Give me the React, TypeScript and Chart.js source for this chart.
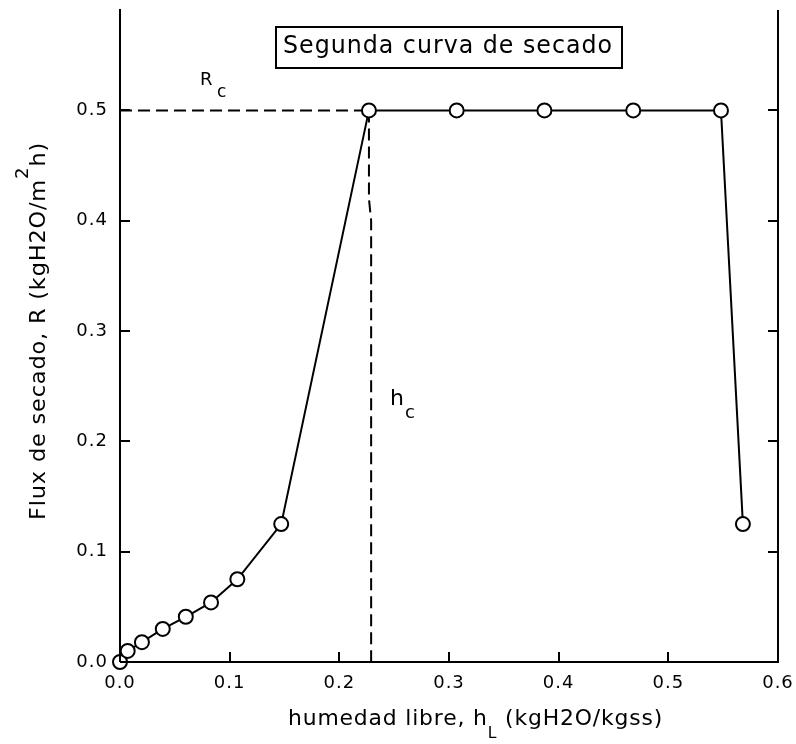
import React, { useEffect, useRef } from "react";
import { Chart, registerables } from "chart.js";

Chart.register(...registerables);

const humedad = [0, 0.007, 0.02, 0.039, 0.06, 0.083, 0.107, 0.147, 0.227, 0.307, 0.387, 0.468, 0.548, 0.568];
const flux = [0, 0.01, 0.018, 0.03, 0.041, 0.054, 0.075, 0.125, 0.5, 0.5, 0.5, 0.5, 0.5, 0.125];
const rcLineX = [0, 0.227];
const rcLineY = [0.5, 0.5];
const hcLineX = [0.227, 0.227, 0.229, 0.229];
const hcLineY = [0.5, 0.42, 0.4, 0];
const xTicks = [0, 0.1, 0.2, 0.3, 0.4, 0.5, 0.6];
const yTicks = [0, 0.1, 0.2, 0.3, 0.4, 0.5];

const titleText = "Segunda curva de secado";
const xTitleParts = ["humedad libre, h", "L", " (kgH2O/kgss)"];
const yTitleParts = ["Flux de secado, R (kgH2O/m", "2", "h)"];
const FONT = "'DejaVu Sans', sans-serif";

const toPts = (xs: number[], ys: number[]) => xs.map((x, i) => ({ x, y: ys[i] }));

// draw text in parts (main / sub-or-superscript / main), stretched horizontally to a target length
function drawParts(ctx: any, parts: string[], size: number, smallSize: number, shift: number, target: number) {
  const sp = 0.8;
  ctx.letterSpacing = `${sp}px`;
  ctx.font = `${size}px ${FONT}`;
  const w0 = ctx.measureText(parts[0]).width;
  const w2 = ctx.measureText(parts[2]).width;
  ctx.font = `${smallSize}px ${FONT}`;
  const w1 = ctx.measureText(parts[1]).width;
  const sx = target / (w0 + w1 + w2);
  ctx.scale(sx, 1);
  let x = 0;
  ctx.font = `${size}px ${FONT}`;
  ctx.fillText(parts[0], x, 0);
  x += w0;
  ctx.font = `${smallSize}px ${FONT}`;
  ctx.fillText(parts[1], x, shift);
  x += w1;
  ctx.font = `${size}px ${FONT}`;
  ctx.fillText(parts[2], x, 0);
  ctx.letterSpacing = "0px";
}

const decorPlugin = {
  id: "decor",
  beforeDraw(chart: any) {
    (chart.ctx as any).letterSpacing = "1px";
  },
  afterDraw(chart: any) {
    const { ctx, chartArea, scales } = chart;
    const xs = scales.x;
    const ys = scales.y;
    ctx.save();
    ctx.strokeStyle = "#000";
    ctx.fillStyle = "#000";
    ctx.lineWidth = 2;
    // right axis line
    ctx.beginPath();
    ctx.moveTo(chartArea.right, chartArea.top);
    ctx.lineTo(chartArea.right, chartArea.bottom + 1);
    ctx.stroke();
    // inward ticks
    ctx.beginPath();
    xTicks.forEach((v) => {
      const px = Math.round(xs.getPixelForValue(v));
      ctx.moveTo(px, chartArea.bottom);
      ctx.lineTo(px, chartArea.bottom - 10);
    });
    yTicks.forEach((v) => {
      const py = Math.round(ys.getPixelForValue(v));
      ctx.moveTo(chartArea.left, py);
      ctx.lineTo(chartArea.left + 10, py);
      ctx.moveTo(chartArea.right, py);
      ctx.lineTo(chartArea.right - 10, py);
    });
    ctx.stroke();

    // title box
    ctx.strokeRect(276, 27, 346, 41);
    ctx.textBaseline = "alphabetic";
    ctx.textAlign = "left";
    ctx.save();
    ctx.translate(283, 53);
    (ctx as any).letterSpacing = "1px";
    ctx.font = `24px ${FONT}`;
    const tw = ctx.measureText(titleText).width;
    ctx.scale(330 / tw, 1);
    ctx.fillText(titleText, 0, 0);
    ctx.restore();
    (ctx as any).letterSpacing = "0px";

    // R_c
    ctx.font = `18px ${FONT}`;
    ctx.fillText("R", 200, 85);
    ctx.font = `17px ${FONT}`;
    ctx.fillText("c", 217, 97);

    // h_c
    ctx.font = `22px ${FONT}`;
    ctx.fillText("h", 390, 405);
    ctx.font = `18px ${FONT}`;
    ctx.fillText("c", 405, 418);

    // x axis title
    ctx.save();
    ctx.translate(288, 725);
    drawParts(ctx, xTitleParts, 21, 15, 13, 375);
    ctx.restore();

    // y axis title (rotated)
    ctx.save();
    ctx.translate(45, 520);
    ctx.rotate(-Math.PI / 2);
    drawParts(ctx, yTitleParts, 21, 17, -17, 378);
    ctx.restore();

    ctx.restore();
  },
};

export default function App() {
  const ref = useRef<HTMLCanvasElement | null>(null);
  useEffect(() => {
    document.body.style.margin = "0";
    const canvas = ref.current!;
    const chart = new Chart(canvas, {
      type: "line",
      data: {
        datasets: [
          {
            data: toPts(humedad, flux),
            borderColor: "#000",
            borderWidth: 2,
            pointRadius: 7,
            pointBorderWidth: 2,
            pointBackgroundColor: "#fff",
            pointBorderColor: "#000",
            showLine: true,
            clip: false as any,
            order: 0,
          },
          {
            data: toPts(rcLineX, rcLineY),
            borderColor: "#000",
            borderWidth: 2,
            borderDash: [12, 6],
            pointRadius: 0,
            order: 1,
          },
          {
            data: toPts(hcLineX, hcLineY),
            borderColor: "#000",
            borderWidth: 2,
            borderDash: [12, 6],
            pointRadius: 0,
            order: 1,
          },
        ],
      },
      options: {
        animation: false,
        responsive: false,
        maintainAspectRatio: false,
        parsing: false as any,
        layout: { padding: { top: 10, right: 18, left: 0, bottom: 0 } },
        plugins: { legend: { display: false }, tooltip: { enabled: false } },
        elements: { line: { tension: 0 } },
        scales: {
          x: {
            type: "linear",
            min: 0,
            max: 0.6,
            afterFit: (s: any) => {
              s.height = 82;
              s.paddingLeft = 0;
              s.paddingRight = 0;
            },
            afterBuildTicks: (s: any) => {
              s.ticks = xTicks.map((v) => ({ value: v }));
            },
            grid: { display: false, drawTicks: false },
            border: { display: true, color: "#000", width: 2 },
            ticks: {
              padding: 11,
              color: "#000",
              font: { family: FONT, size: 18 },
              maxRotation: 0,
              callback: (v: any) => Number(v).toFixed(1),
            },
          },
          y: {
            type: "linear",
            min: 0,
            max: 0.591,
            afterFit: (s: any) => {
              s.width = 120;
              s.paddingTop = 0;
              s.paddingBottom = 0;
            },
            afterBuildTicks: (s: any) => {
              s.ticks = yTicks.map((v) => ({ value: v }));
            },
            grid: { display: false, drawTicks: false },
            border: { display: true, color: "#000", width: 2 },
            ticks: {
              padding: 12,
              color: "#000",
              font: { family: FONT, size: 18 },
              callback: (v: any) => Number(v).toFixed(1),
            },
          },
        },
      },
      plugins: [decorPlugin],
    });
    return () => chart.destroy();
  }, []);
  return (
    <div style={{ position: "relative", width: 796, height: 744, background: "#fff" }}>
      <canvas ref={ref} width={796} height={744} style={{ display: "block", width: 796, height: 744 }} />
    </div>
  );
}
